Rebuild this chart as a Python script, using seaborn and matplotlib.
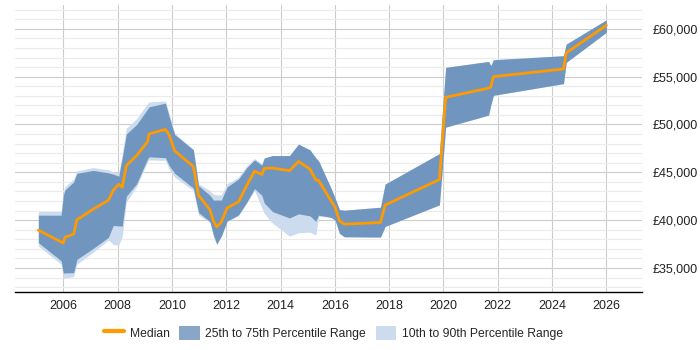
import numpy as np
import pandas as pd
import matplotlib
matplotlib.use("Agg")
import matplotlib.pyplot as plt
import seaborn as sns
from matplotlib.ticker import MultipleLocator, FuncFormatter
from matplotlib.lines import Line2D
from matplotlib.patches import Patch

# data
years = [2005.08, 2005.92, 2006.0, 2006.06, 2006.38, 2006.5, 2007.1, 2007.66, 2007.84, 2008.04,
         2008.17, 2008.32, 2008.7, 2009.1, 2009.16, 2009.76, 2009.9, 2010.1, 2010.79, 2010.98,
         2011.4, 2011.53, 2011.65, 2011.82, 2012.03, 2012.45, 2012.76, 2013.04, 2013.31, 2013.4,
         2013.7, 2014.33, 2014.66, 2015.08, 2015.3, 2015.4, 2015.85, 2016.01, 2016.17, 2016.35,
         2017.68, 2017.85, 2019.85, 2020.08, 2021.66, 2021.74, 2021.84, 2024.42, 2024.52, 2026.0]

median = [38950, 37720, 37600, 38200, 38540, 40030, 41150, 42080, 43120, 43750,
          43440, 45700, 46750, 48200, 49030, 49480, 48900, 47250, 45600, 42600,
          41080, 39900, 39300, 39820, 41270, 41910, 43650, 45120, 44780, 45400,
          45450, 45170, 46130, 45350, 44200, 44150, 42080, 41350, 39930, 39580,
          39750, 41580, 44240, 52840, 53800, 53900, 55000, 55800, 57480, 60370]

p75 = [40520, 40520, 42600, 43150, 43990, 44900, 45200, 44950, 44800, 44600,
       46500, 49000, 50000, 51600, 51850, 52230, 50800, 48950, 47350, 43600,
       42600, 42100, 42100, 42100, 43470, 44300, 45500, 46300, 45750, 46500,
       46750, 46750, 47950, 47350, 46500, 46200, 43400, 42300, 41100, 41040,
       41350, 43770, 46950, 55970, 56590, 56150, 56770, 57190, 58400, 60940]

p25 = [37650, 35750, 34450, 34480, 34510, 35900, 37050, 38200, 39450, 39400,
       39380, 42500, 43800, 46400, 46620, 46530, 45700, 44900, 43350, 40800,
       39850, 38400, 37520, 38350, 39900, 40550, 41900, 43300, 42600, 41800,
       40900, 40230, 40660, 40450, 39880, 40520, 40300, 40000, 38610, 38260,
       38230, 39340, 41600, 49720, 50980, 52000, 53050, 54270, 56490, 59640]

p90 = [40900, 40900, 42900, 43500, 44300, 45150, 45500, 45250, 45050, 44900,
       47000, 49600, 50600, 52200, 52350, 52450, 51100, 49100, 47400, 43800,
       43100, 42700, 42650, 42650, 43800, 44500, 45700, 46450, 45900, 46500,
       46750, 46750, 47950, 47350, 46500, 46200, 43400, 42300, 41100, 41040,
       41350, 43770, 46950, 55970, 56590, 56150, 56770, 57190, 58400, 60940]

p10 = [37300, 35400, 33930, 33950, 34100, 35400, 36650, 37920, 37450, 37400,
       38300, 41900, 43500, 46100, 46300, 46250, 45300, 44500, 43100, 40550,
       39720, 38300, 37400, 38300, 39850, 40450, 41800, 43100, 41300, 40700,
       39700, 38330, 38680, 38750, 38440, 40420, 40300, 40000, 38610, 38260,
       38230, 39340, 41600, 49720, 50980, 52000, 53050, 54270, 56490, 59640]

df = pd.DataFrame({"year": years, "median": median, "p10": p10, "p25": p25, "p75": p75, "p90": p90})

sns.set_style("white")
plt.rcParams['font.family'] = ['Liberation Sans', 'DejaVu Sans']

fig = plt.figure(figsize=(7, 3.5), dpi=100)
ax = fig.add_axes([0.0214, 0.166, 0.8957, 0.82])

light = "#ccdcee"
dark = "#7096bf"
orange = "#ff9a00"

ax.fill_between(df["year"], df["p10"], df["p90"], color=light, lw=0, zorder=2)
ax.fill_between(df["year"], df["p25"], df["p75"], color=dark, lw=0, zorder=3)
sns.lineplot(data=df, x="year", y="median", color=orange, lw=2, ax=ax, zorder=4)

ax.set_xlim(2004.22, 2027.31)
ax.set_ylim(32500, 62500)
ax.xaxis.set_major_locator(MultipleLocator(2))
ax.yaxis.set_major_locator(MultipleLocator(5000))
ax.yaxis.set_minor_locator(MultipleLocator(1000))
ax.yaxis.set_major_formatter(FuncFormatter(lambda v, p: "£{:,.0f}".format(v)))
ax.yaxis.tick_right()
ax.set_xlabel("")
ax.set_ylabel("")

ax.grid(which="major", axis="both", color="#cccccc", lw=0.8, zorder=0)
ax.grid(which="minor", axis="y", color="#ebebeb", lw=0.8, zorder=0)
ax.set_axisbelow(True)
ax.tick_params(which="both", length=0, labelsize=9, colors="#222222")
ax.tick_params(axis="y", pad=8)
ax.tick_params(axis="x", pad=6)

for s in ["left", "right", "top"]:
    ax.spines[s].set_visible(False)
ax.spines["bottom"].set_color("black")
ax.spines["bottom"].set_linewidth(1)

handles = [Line2D([0], [0], color=orange, lw=3),
           Patch(facecolor="#88a6c7", edgecolor="none"),
           Patch(facecolor=light, edgecolor="none")]
labels = ["Median", "25th to 75th Percentile Range", "10th to 90th Percentile Range"]
fig.legend(handles, labels, loc="center", bbox_to_anchor=(0.476, 0.049), ncol=3,
           frameon=False, fontsize=8.7, handlelength=1.7, handleheight=1.4, columnspacing=0.8,
           handletextpad=0.45)

fig.savefig("out.png", dpi=100)
